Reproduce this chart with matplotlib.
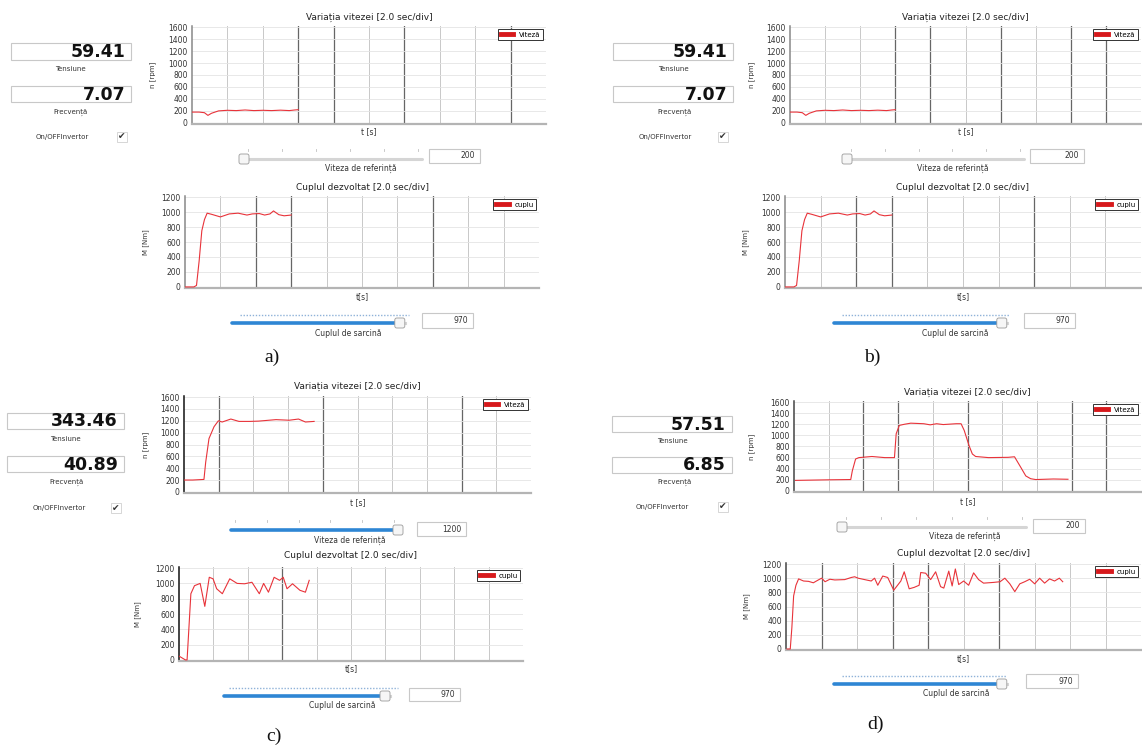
import matplotlib
matplotlib.use("Agg")
import matplotlib.pyplot as plt
from matplotlib.patches import Rectangle, FancyBboxPatch
from matplotlib.lines import Line2D

W, H = 1142, 747

# ---- values ----
TENSIUNE = ["59.41", "59.41", "343.46", "57.51"]
FRECVENTA = ["7.07", "7.07", "40.89", "6.85"]
REF_SPEED = [200, 200, 1200, 200]
LOAD_TORQUE = [970, 970, 970, 970]
CAPTIONS = ["a)", "b)", "c)", "d)"]

# panel a / b (same screen)
t_speed_ab = [0, 0.4, 0.7, 0.9, 1.1, 1.5, 2.0, 2.5, 3.0, 3.5, 4.0, 4.5, 5.0, 5.5, 5.8, 6.0]
n_speed_ab = [180, 180, 170, 125, 160, 200, 210, 205, 215, 205, 210, 205, 212, 205, 215, 220]
t_torque_ab = [0, 0.5, 0.65, 0.8, 0.95, 1.1, 1.25, 1.5, 2.0, 2.5, 3.0, 3.5, 3.8, 4.2, 4.5,
               4.8, 5.0, 5.3, 5.6, 6.0]
m_torque_ab = [0, 0, 20, 350, 750, 900, 985, 970, 935, 975, 985, 960, 975, 980, 960,
               975, 1015, 965, 950, 960]

# panel c
t_speed_c = [0, 0.5, 1.15, 1.25, 1.44, 1.73, 1.98, 2.2, 2.7, 3.17, 3.8, 4.3, 5.3, 6.06, 6.6, 7.0, 7.5]
n_speed_c = [200, 200, 210, 500, 900, 1100, 1200, 1180, 1230, 1190, 1190, 1195, 1220, 1210, 1230, 1180, 1190]
t_torque_c = [0, 0.37, 0.47, 0.69, 0.9, 1.23, 1.5, 1.76, 1.98, 2.19, 2.52, 2.95, 3.38, 3.81, 4.24,
              4.67, 4.92, 5.2, 5.53, 5.85, 6.06, 6.28, 6.6, 7.03, 7.35, 7.57]
m_torque_c = [50, 0, 0, 865, 970, 1000, 700, 1080, 1060, 930, 865, 1060, 1000, 995, 1015,
              865, 1000, 885, 1080, 1040, 1080, 930, 995, 910, 885, 1040]

# panel d
t_speed_d = [0.09, 1.96, 3.27, 3.36, 3.55, 3.74, 4.49, 5.23, 5.79, 5.89, 6.07, 6.36, 6.73, 7.48,
             7.85, 8.22, 8.6, 9.35, 9.63, 9.81, 10.09, 10.28, 10.47, 11.21, 12.34, 12.71, 13.08,
             13.36, 13.64, 13.93, 14.95, 15.79]
n_speed_d = [190, 200, 205, 360, 575, 600, 620, 600, 600, 1030, 1180, 1200, 1220, 1210,
             1190, 1210, 1195, 1210, 1210, 1090, 815, 665, 620, 600, 605, 615, 420,
             270, 220, 205, 215, 210]
t_torque_d = [0.06, 0.24, 0.33, 0.43, 0.56, 0.71, 0.99, 1.27, 1.54, 1.82,
              2.01, 2.2, 2.47, 2.75, 3.31, 3.68, 3.87, 4.06, 4.43, 4.8,
              4.99, 5.17, 5.45, 5.73, 6.07, 6.47, 6.66, 6.94, 7.22, 7.5,
              7.59, 7.87, 8.15, 8.43, 8.71, 8.89, 9.17, 9.36, 9.54, 9.73,
              10.01, 10.29, 10.57, 10.85, 11.13, 11.68, 12.06, 12.33, 12.61, 12.89,
              13.17, 13.45, 13.73, 14.01, 14.29, 14.57, 14.85, 15.13, 15.4, 15.59]
m_torque_d = [0, 0, 300, 750, 900, 990, 960, 955, 935, 975,
              1000, 950, 985, 975, 980, 1010, 1020, 1000, 980, 960,
              1000, 900, 1030, 1010, 830, 960, 1090, 850, 870, 900,
              1080, 1070, 980, 1090, 880, 860, 1100, 890, 1130, 910,
              960, 900, 1075, 980, 930, 940, 950, 1000, 920, 810,
              920, 950, 985, 920, 1000, 930, 990, 960, 1000, 950]

SPEED_TICKS = [0, 200, 400, 600, 800, 1000, 1200, 1400, 1600]
TORQUE_TICKS = [0, 200, 400, 600, 800, 1000, 1200]

# ---- screen layout (pixel positions) ----
panels = [
    dict(box1=(11, 43, 131, 60), box2=(11, 86, 131, 102), lbl1=(70, 69), lbl2=(70, 112),
         onoff=(62, 137), check=(122, 137),
         sp=(192, 26, 546, 124), sp_title=17, sp_xl=132, sp_yl=153, sp_dark=[3, 4, 6, 9],
         s1=(244, 422, 159), s1_box=(429, 149, 480, 163), s1_lbl=(361, 168),
         tq=(185, 196, 539, 288), tq_title=187, tq_xl=297, tq_yl=146, tq_dark=[2, 3, 7],
         s2=(232, 405, 323), s2_dots=(240, 409, 315), s2_box=(422, 313, 473, 328), s2_lbl=(348, 333),
         cap=(272, 357), spine="#888888",
         data=(t_speed_ab, n_speed_ab, t_torque_ab, m_torque_ab)),
    dict(box1=(613, 43, 733, 60), box2=(613, 86, 733, 102), lbl1=(673, 69), lbl2=(674, 112),
         onoff=(665, 137), check=(723, 137),
         sp=(790, 26, 1141, 124), sp_title=17, sp_xl=132, sp_yl=752, sp_dark=[3, 4, 6, 8, 9],
         s1=(847, 1024, 159), s1_box=(1030, 149, 1084, 163), s1_lbl=(953, 168),
         tq=(785, 196, 1141, 288), tq_title=187, tq_xl=297, tq_yl=746, tq_dark=[2, 3, 7],
         s2=(834, 1007, 323), s2_dots=(842, 1010, 315), s2_box=(1024, 313, 1075, 328), s2_lbl=(955, 333),
         cap=(872, 357), spine="#888888",
         data=(t_speed_ab, n_speed_ab, t_torque_ab, m_torque_ab)),
    dict(box1=(7, 413, 124, 429), box2=(7, 456, 124, 472), lbl1=(65, 439), lbl2=(67, 482),
         onoff=(59, 508), check=(116, 508),
         sp=(184, 396, 531, 493), sp_title=386, sp_xl=503, sp_yl=146, sp_dark=[1, 4, 8],
         s1=(231, 398, 530), s1_box=(417, 522, 466, 536), s1_lbl=(350, 540),
         tq=(179, 567, 523, 661), tq_title=556, tq_xl=669, tq_yl=138, tq_dark=[3],
         s2=(224, 390, 696), s2_dots=(229, 398, 688), s2_box=(409, 688, 460, 701), s2_lbl=(342, 706),
         cap=(274, 736), spine="#111111",
         data=(t_speed_c, n_speed_c, t_torque_c, m_torque_c)),
    dict(box1=(612, 416, 732, 432), box2=(612, 457, 732, 473), lbl1=(672, 441), lbl2=(675, 482),
         onoff=(662, 507), check=(723, 507),
         sp=(794, 401, 1141, 492), sp_title=392, sp_xl=502, sp_yl=752, sp_dark=[2, 3, 5, 8, 9],
         s1=(842, 1026, 527), s1_box=(1033, 519, 1085, 533), s1_lbl=(965, 536),
         tq=(786, 563, 1141, 650), tq_title=553, tq_xl=659, tq_yl=747, tq_dark=[1, 3, 4, 6],
         s2=(834, 1007, 684), s2_dots=(842, 1007, 676), s2_box=(1026, 674, 1078, 688), s2_lbl=(956, 694),
         cap=(876, 724), spine="#444444",
         data=(t_speed_d, n_speed_d, t_torque_d, m_torque_d)),
]

fig = plt.figure(figsize=(W / 100, H / 100), dpi=100)
fig.patch.set_facecolor("white")

ov = fig.add_axes([0, 0, 1, 1])
ov.set_xlim(0, W)
ov.set_ylim(H, 0)
ov.axis("off")

TXT = "#333333"
RED = "#e8333a"


def px_axes(x0, y0, x1, y1):
    return fig.add_axes([x0 / W, 1 - y1 / H, (x1 - x0) / W, (y1 - y0) / H])


def value_box(rect, txt, big=True):
    x0, y0, x1, y1 = rect
    ov.add_patch(Rectangle((x0, y0), x1 - x0, y1 - y0, fc="white", ec="#c8c8c8", lw=0.8))
    if big:
        ov.text(x1 - 6, (y0 + y1) / 2 + 0.5, txt, ha="right", va="center",
                fontsize=12.5, fontweight="bold", color="#111111")
    else:
        ov.text(x1 - 5, (y0 + y1) / 2, txt, ha="right", va="center", fontsize=5.5, color=TXT)


def slider(track, frac, blue, box, txt, lbl, text, dots=None):
    x0, x1, y = track
    xh = x0 + (x1 - x0) * frac
    if blue:
        ov.plot([x0, xh], [y, y], color="#2e86d4", lw=2.6, solid_capstyle="round")
        ov.plot([xh, x1], [y, y], color="#d5d5d5", lw=2.2)
    else:
        ov.plot([x0, x1], [y, y], color="#d5d5d5", lw=2.2, solid_capstyle="round")
    if dots is None:
        # tick marks above the speed slider
        for i in range(6):
            xt = x0 + 4 + (x1 - x0 - 8) * i / 5
            ov.plot([xt, xt], [y - 10, y - 8], color="#c0c0c0", lw=0.6)
    else:
        d0, d1, dy = dots
        ov.plot([d0, d1], [dy, dy], color="#8fb2d8", lw=1.0, ls=(0, (1, 1.2)))
    ov.add_patch(FancyBboxPatch((xh - 5, y - 5), 10, 10, boxstyle="round,pad=0,rounding_size=2",
                                fc="#f6f6f6", ec="#9a9a9a", lw=0.6, zorder=3))
    value_box(box, txt, big=False)
    ov.text(lbl[0], lbl[1], text, ha="center", va="center", fontsize=5.5, color=TXT)


def chart(rect, t, v, ymax, ticks, dark, title, title_y, xlabel, xlabel_y, ylabel, ylabel_x,
          leg, spine):
    ax = px_axes(*rect)
    ax.set_facecolor("white")
    ax.set_xlim(0, 20)
    ax.set_ylim(-ymax * 0.012, ymax * 1.012)
    ax.set_yticks(ticks)
    ax.set_xticks([])
    ax.tick_params(axis="y", length=0, pad=3, labelsize=5.5, labelcolor=TXT)
    ax.yaxis.grid(True, color="#e4e4e4", lw=0.6)
    for i in range(1, 10):
        if i in dark:
            ax.axvline(2 * i, color="#666666", lw=0.9, zorder=1)
        else:
            ax.axvline(2 * i, color="#c8c8c8", lw=0.7, zorder=1)
    for s in ("top", "right"):
        ax.spines[s].set_visible(False)
    ax.spines["left"].set_color(spine)
    ax.spines["left"].set_linewidth(1.1)
    ax.spines["bottom"].set_color("#b4b4b4")
    ax.spines["bottom"].set_linewidth(1.6)
    ax.plot(t, v, color=RED, lw=0.8, zorder=3)
    lg = ax.legend(handles=[Line2D([], [], color="#d7191c", lw=3.5)], labels=[leg],
                   loc="upper right", fontsize=5, fancybox=False, edgecolor="#333333",
                   handlelength=1.8, borderpad=0.4, borderaxespad=0.4, framealpha=1)
    lg.get_frame().set_linewidth(0.7)
    xc = (rect[0] + rect[2]) / 2
    ov.text(xc, title_y, title, ha="center", va="center", fontsize=6.5, color="#222222")
    ov.text(xc, xlabel_y, xlabel, ha="center", va="center", fontsize=5.5, color=TXT)
    ov.text(ylabel_x, (rect[1] + rect[3]) / 2, ylabel, ha="center", va="center",
            rotation=90, fontsize=5, color=TXT)
    return ax


for k, p in enumerate(panels):
    ts, ns, tt, mt = p["data"]
    value_box(p["box1"], TENSIUNE[k])
    value_box(p["box2"], FRECVENTA[k])
    ov.text(*p["lbl1"], "Tensiune", ha="center", va="center", fontsize=5, color=TXT)
    ov.text(*p["lbl2"], "Frecvență", ha="center", va="center", fontsize=5, color=TXT)
    ov.text(*p["onoff"], "On/OFFInvertor", ha="center", va="center", fontsize=5, color=TXT)
    cx, cy = p["check"]
    ov.add_patch(Rectangle((cx - 5, cy - 5), 10, 10, fc="white", ec="#d0d0d0", lw=0.6))
    ov.text(cx, cy, "\u2714", ha="center", va="center", fontsize=6.5, color="#333333")

    chart(p["sp"], ts, ns, 1600, SPEED_TICKS, p["sp_dark"], "Variația vitezei [2.0 sec/div]",
          p["sp_title"], "t [s]", p["sp_xl"], "n [rpm]", p["sp_yl"], "Viteză", p["spine"])
    slider(p["s1"], (REF_SPEED[k] - 200) / 1000, REF_SPEED[k] > 200, p["s1_box"],
           str(REF_SPEED[k]), p["s1_lbl"], "Viteza de referință")

    chart(p["tq"], tt, mt, 1200, TORQUE_TICKS, p["tq_dark"], "Cuplul dezvoltat [2.0 sec/div]",
          p["tq_title"], "t[s]", p["tq_xl"], "M [Nm]", p["tq_yl"], "cuplu", p["spine"])
    slider(p["s2"], LOAD_TORQUE[k] / 1000, True, p["s2_box"], str(LOAD_TORQUE[k]),
           p["s2_lbl"], "Cuplul de sarcină", dots=p["s2_dots"])

    ov.text(*p["cap"], CAPTIONS[k], ha="center", va="center", fontsize=14,
            family="Liberation Serif", color="#111111")

fig.savefig("out.png", dpi=100)
